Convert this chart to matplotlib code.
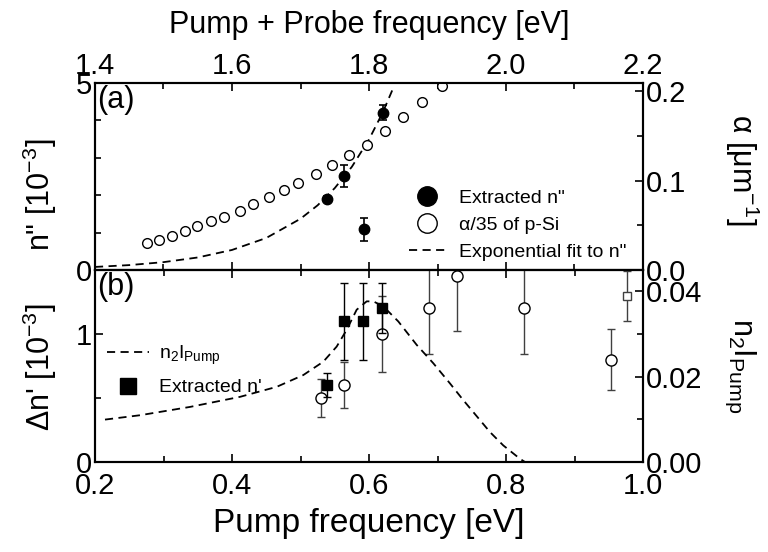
import matplotlib
matplotlib.use("Agg")
import matplotlib.pyplot as plt
from matplotlib.lines import Line2D
from matplotlib.ticker import MultipleLocator

plt.rcParams['font.family'] = ['Liberation Sans', 'DejaVu Sans']
plt.rcParams['mathtext.fontset'] = 'custom'
plt.rcParams['mathtext.rm'] = 'Liberation Sans'
plt.rcParams['mathtext.it'] = 'Liberation Sans:italic'

# --- painel (a): eixo x = Pump + Probe [eV] ---
alpha_E = [1.476, 1.494, 1.512, 1.531, 1.549, 1.570, 1.589, 1.611, 1.631, 1.654,
           1.676, 1.697, 1.722, 1.746, 1.771, 1.797, 1.823, 1.850, 1.878, 1.907]
alpha_val = [0.0305, 0.0335, 0.0379, 0.0432, 0.0491, 0.0543, 0.0595, 0.0662, 0.0737, 0.0811,
             0.0893, 0.0974, 0.1071, 0.1175, 0.1287, 0.1398, 0.1555, 0.1711, 0.1875, 0.2053]
nim_E = [1.739, 1.764, 1.792, 1.820]
nim = [1.89, 2.51, 1.09, 4.21]
nim_err = [0.08, 0.30, 0.31, 0.20]
fit_E = [1.40, 1.45, 1.50, 1.55, 1.60, 1.65, 1.70, 1.725, 1.75, 1.775, 1.80, 1.82, 1.835]
fit_n = [0.082, 0.131, 0.210, 0.335, 0.536, 0.856, 1.37, 1.73, 2.19, 2.76, 3.49, 4.21, 4.85]

# --- painel (b): eixo x = Pump [eV] ---
sq_E = [0.539, 0.5635, 0.591, 0.6195]
sq_dn = [0.60, 1.10, 1.10, 1.20]
sq_err = [0.094, 0.30, 0.30, 0.196]
oc_E = [0.5295, 0.5635, 0.6195, 0.688, 0.729, 0.827, 0.953]
oc_dn = [0.50, 0.60, 1.00, 1.20, 1.45, 1.20, 0.80]
oc_err = [0.15, 0.18, 0.30, 0.36, 0.43, 0.36, 0.24]
osq_E = [0.976]
osq_dn = [1.30]
osq_err = [0.195]
n2i_E = [0.2146, 0.2657, 0.3387, 0.4117, 0.4653, 0.5041, 0.5333, 0.5528, 0.5674, 0.582, 0.5966,
         0.6063, 0.6209, 0.6428, 0.6696, 0.6939, 0.7182, 0.7377, 0.7766, 0.796, 0.8204, 0.8277]
n2i = [0.00994, 0.01096, 0.01291, 0.01527, 0.01762, 0.02038, 0.02351, 0.02705, 0.03098, 0.03569, 0.03765,
       0.03765, 0.03647, 0.03294, 0.02745, 0.02314, 0.01842, 0.01449, 0.00702, 0.00389, 0.00075, 0.0]

TICK_FS = 21
LABEL_FS = 22
DASH = (4.5, 3)

fig = plt.figure(figsize=(7.68, 5.52), dpi=100)
W, H = 768, 552
left, right = 95 / W, 643 / W
ax1 = fig.add_axes([left, 1 - 270 / H, right - left, 187 / H])
ax2 = fig.add_axes([left, 1 - 462 / H, right - left, 192 / H])
ax1r = ax1.twinx()
ax2r = ax2.twinx()


def estilo(ax):
    for s in ax.spines.values():
        s.set_linewidth(1.5)
    ax.tick_params(which='both', direction='in', width=1.2, labelsize=TICK_FS, pad=2)
    ax.tick_params(which='major', length=6)
    ax.tick_params(which='minor', length=4)


# ===== painel (a) =====
ax1.plot(fit_E, fit_n, ls='--', dashes=DASH, color='black', lw=1.3)
ax1.errorbar(nim_E, nim, yerr=nim_err, fmt='o', color='black', ms=7.5,
             capsize=3, elinewidth=1.2, capthick=1.2, zorder=5)
ax1r.plot(alpha_E, alpha_val, 'o', mfc='white', mec='black', ms=7, mew=1.0)

ax1.set_xlim(1.4, 2.2)
ax1.set_ylim(0, 5)
ax1r.set_ylim(0, 0.209)
ax1.xaxis.set_major_locator(MultipleLocator(0.2))
ax1.xaxis.set_minor_locator(MultipleLocator(0.1))
ax1.yaxis.set_major_locator(MultipleLocator(5))
ax1.yaxis.set_minor_locator(MultipleLocator(1))
ax1r.yaxis.set_major_locator(MultipleLocator(0.1))
ax1r.yaxis.set_minor_locator(MultipleLocator(0.05))
ax1.xaxis.set_major_formatter(plt.FormatStrFormatter('%.1f'))
ax1r.yaxis.set_major_formatter(plt.FormatStrFormatter('%.1f'))
estilo(ax1)
estilo(ax1r)
ax1.tick_params(axis='x', which='both', top=True, bottom=True, labeltop=True, labelbottom=False)
ax1.xaxis.set_label_position('top')
ax1.set_xlabel('Pump + Probe frequency [eV]', fontsize=LABEL_FS, labelpad=14)
ax1.text(0.004, 0.99, '(a)', transform=ax1.transAxes, fontsize=LABEL_FS, va='top', ha='left')

h_a = [Line2D([], [], ls='none', marker='o', color='black', ms=14),
       Line2D([], [], ls='none', marker='o', mfc='white', mec='black', ms=14, mew=1.0),
       Line2D([], [], ls='--', dashes=DASH, color='black', lw=1.3)]
ax1r.legend(h_a, ['Extracted n"', 'α/35 of p-Si', 'Exponential fit to n"'],
            loc='upper left', bbox_to_anchor=(0.558, 0.475), borderaxespad=0,
            frameon=False, fontsize=14, handlelength=1.9, handletextpad=0.7,
            labelspacing=0.5)

# ===== painel (b) =====
ax2r.plot(n2i_E, n2i, ls='--', dashes=DASH, color='black', lw=1.3)
ax2.errorbar(oc_E, oc_dn, yerr=oc_err, fmt='o', mfc='white', mec='black', ms=8,
             ecolor='0.25', capsize=3, elinewidth=1.0, capthick=1.0, zorder=3)
ax2.errorbar(osq_E, osq_dn, yerr=osq_err, fmt='s', mfc='white', mec='0.25', ms=6,
             ecolor='0.25', capsize=3, elinewidth=1.0, capthick=1.0, zorder=3)
ax2.errorbar(sq_E, sq_dn, yerr=sq_err, fmt='s', color='black', ms=7,
             capsize=3, elinewidth=1.0, capthick=1.0, zorder=4)

ax2.set_xlim(0.2, 1.0)
ax2.set_ylim(0, 1.5)
ax2r.set_ylim(0, 0.045)
ax2.xaxis.set_major_locator(MultipleLocator(0.2))
ax2.xaxis.set_minor_locator(MultipleLocator(0.1))
ax2.yaxis.set_major_locator(MultipleLocator(1))
ax2.yaxis.set_minor_locator(MultipleLocator(0.5))
ax2r.yaxis.set_major_locator(MultipleLocator(0.02))
ax2r.yaxis.set_minor_locator(MultipleLocator(0.01))
ax2.xaxis.set_major_formatter(plt.FormatStrFormatter('%.1f'))
ax2r.yaxis.set_major_formatter(plt.FormatStrFormatter('%.2f'))
estilo(ax2)
estilo(ax2r)
ax2.tick_params(axis='x', which='both', top=True, bottom=True, pad=7)
ax2.set_xlabel('Pump frequency [eV]', fontsize=24, labelpad=6)
ax2.text(0.004, 0.99, '(b)', transform=ax2.transAxes, fontsize=LABEL_FS, va='top', ha='left')

h_b = [Line2D([], [], ls='none' if False else '--', dashes=DASH, color='black', lw=1.3),
       Line2D([], [], ls='none', marker='s', color='black', ms=11)]
ax2r.legend(h_b, [r'n$_2$I$_{\mathrm{Pump}}$', "Extracted n'"],
            loc='upper left', bbox_to_anchor=(0.007, 0.655), borderaxespad=0,
            frameon=False, fontsize=14, handlelength=2.2, handletextpad=0.5,
            labelspacing=0.6)

# rótulos dos eixos y posicionados na figura
fig.text(40 / W, 1 - 195 / H, 'n" [10$^{-3}$]', fontsize=LABEL_FS, rotation=90,
         ha='center', va='center')
fig.text(40 / W, 1 - 367 / H, "Δn' [10$^{-3}$]", fontsize=LABEL_FS, rotation=90,
         ha='center', va='center')
fig.text(742 / W, 1 - 170 / H, r'α [μm$^{-1}$]', fontsize=LABEL_FS, rotation=270,
         ha='center', va='center')
fig.text(740 / W, 1 - 366 / H, r'n$_2$I$_{\mathrm{Pump}}$', fontsize=LABEL_FS, rotation=270,
         ha='center', va='center')

fig.savefig('out.png', dpi=100)
